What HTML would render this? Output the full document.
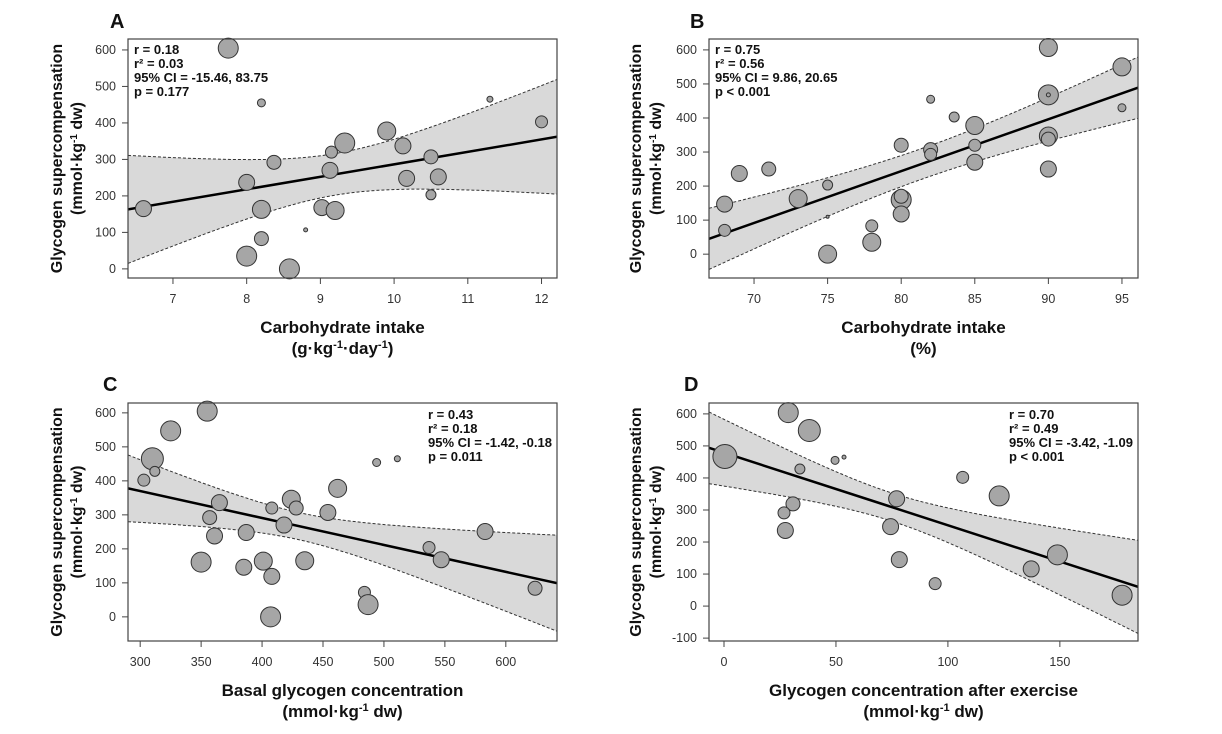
<!DOCTYPE html>
<html><head><meta charset="utf-8">
<style>
body{margin:0;background:#fff;}
svg{display:block;font-family:"Liberation Sans",Arial,sans-serif;}
.tick{font-size:12.5px;fill:#333;}
.stat{font-size:13px;font-weight:bold;fill:#111;}
.ttl{font-size:16px;font-weight:bold;fill:#111;}
.let{font-size:20px;font-weight:bold;fill:#111;}
</style></head>
<body>
<svg id="chart" width="1222" height="734"></svg>
<script>
// ---------- Panel A data ----------
const aX=[7.75,8.2,11.3,12.0,9.9,9.33,10.12,9.15,8.37,10.5,9.13,8.0,10.17,10.6,10.5,6.6,8.2,9.02,9.2,8.8,8.2,8.0,8.58];
const aY=[605,455,465,403,378,345,337,320,292,307,270,237,248,252,203,165,163,168,160,107,83,35,0];
const aR=[10,4,3,6,9,10,8,6,7,7,8,8,8,8,5,8,9,8,9,2,7,10,10];
const aFit=[163,362];
const aBand=[57,48.6,9.2];
const aXTicks=[7,8,9,10,11,12];
const aYTicks=[0,100,200,300,400,500,600];
const aStats=["r = 0.18","r² = 0.03","95% CI = -15.46, 83.75","p = 0.177"];
// ---------- Panel B data ----------
const bX=[90,95,90,90,95,82,83.6,85,90,90,80,85,82,82,85,69,71,90,75,73,68,80,80,80,68,75,78,78,75];
const bY=[607,550,468,468,430,455,403,378,347,338,320,320,307,293,270,237,250,250,203,163,147,160,170,118,70,110,83,35,0];
const bR=[9,9,10,2,4,4,5,9,9,7,7,6,7,6,8,8,7,8,5,9,8,10,7,8,6,1.5,6,9,9];
const bFit=[45,489];
const bBand=[45,5.34,81.5];
const bXTicks=[70,75,80,85,90,95];
const bYTicks=[0,100,200,300,400,500,600];
const bStats=["r = 0.75","r² = 0.56","95% CI = 9.86, 20.65","p < 0.001"];
// ---------- Panel C data ----------
const cX=[355,325,310,312,303,511,494,462,424,365,408,428,454,357,418,583,387,361,537,547,350,401,435,385,408,624,484,487,407];
const cY=[605,547,465,428,402,465,454,378,346,336,320,320,307,292,270,251,248,238,204,168,161,164,165,146,119,84,72,36,0];
const cR=[10,10,11,5,6,3,4,9,9,8,6,7,8,7,8,8,8,8,6,8,10,9,9,8,8,7,6,10,10];
const cFit=[378,99];
const cBand=[40,0.639,430];
const cXTicks=[300,350,400,450,500,550,600];
const cYTicks=[0,100,200,300,400,500,600];
const cStats=["r = 0.43","r² = 0.18","95% CI = -1.42, -0.18","p = 0.011"];
// ---------- Panel D data ----------
const dX=[28.7,38.1,0.4,49.6,53.6,33.9,106.6,122.9,77.1,30.8,26.8,74.4,27.4,148.9,78.3,137.2,94.3,177.8];
const dY=[604,548,467,455,465,428,402,344,335,319,291,248,236,160,145,116,70,34];
const dR=[10,11,12,4,2,5,6,10,8,7,6,8,8,10,8,8,6,10];
const dFit=[494,60];
const dBand=[44,1.26,75];
const dXTicks=[0,50,100,150];
const dYTicks=[-100,0,100,200,300,400,500,600];
const dStats=["r = 0.70","r² = 0.49","95% CI = -3.42, -1.09","p < 0.001"];

const NS="http://www.w3.org/2000/svg";
const svg=document.getElementById('chart');
function mk(tag,attrs,parent,txt){const e=document.createElementNS(NS,tag);for(const k in attrs)e.setAttribute(k,attrs[k]);if(txt!==undefined)e.textContent=txt;(parent||svg).appendChild(e);return e;}

function panel(cfg){
  const g=mk('g',{});
  
  
  const L=cfg.box[0],T=cfg.box[1],R=cfg.box[2],B=cfg.box[3];
  const sx=v=>L+(v-cfg.xr[0])/(cfg.xr[1]-cfg.xr[0])*(R-L);
  const sy=v=>B-(v-cfg.yr[0])/(cfg.yr[1]-cfg.yr[0])*(B-T);
  const clipId='clip'+cfg.id;
  const cp=mk('clipPath',{id:clipId},g);mk('rect',{x:L,y:T,width:R-L,height:B-T},cp);
  const fit=x=>cfg.fit[0]+(x-cfg.xr[0])/(cfg.xr[1]-cfg.xr[0])*(cfg.fit[1]-cfg.fit[0]);
  const hw=x=>Math.sqrt(cfg.band[0]*cfg.band[0]+cfg.band[1]*cfg.band[1]*(x-cfg.band[2])*(x-cfg.band[2]));
  let up=[],lo=[];
  for(let i=0;i<=60;i++){const x=cfg.xr[0]+i/60*(cfg.xr[1]-cfg.xr[0]);up.push(sx(x).toFixed(1)+','+sy(fit(x)+hw(x)).toFixed(1));lo.push(sx(x).toFixed(1)+','+sy(fit(x)-hw(x)).toFixed(1));}
  const cg=mk('g',{'clip-path':'url(#'+clipId+')'},g);
  const band=mk('polygon',{points:up.concat(lo.slice().reverse()).join(' '),fill:'#d9d9d9',stroke:'none'},cg);
  
  
  const u=mk('polyline',{points:up.join(' '),fill:'none',stroke:'#333','stroke-width':1,'stroke-dasharray':'3,2'},cg);
  
  
  const l=mk('polyline',{points:lo.join(' '),fill:'none',stroke:'#333','stroke-width':1,'stroke-dasharray':'3,2'},cg);
  
  
  const fl=mk('line',{x1:L,y1:sy(cfg.fit[0]),x2:R,y2:sy(cfg.fit[1]),stroke:'#000','stroke-width':2.5},cg);
  
  
  for(let i=0;i<cfg.x.length;i++){
    const c=mk('circle',{cx:sx(cfg.x[i]),cy:sy(cfg.y[i]),r:cfg.r[i],fill:'#a6a6a6',stroke:'#333','stroke-width':1},g);
    
    
  }
  const bx=mk('rect',{x:L,y:T,width:R-L,height:B-T,fill:'none',stroke:'#444','stroke-width':1.2},g);
  
  
  cfg.xt.forEach(t=>{const x=sx(t);mk('line',{x1:x,y1:B,x2:x,y2:B+6,stroke:'#444'},g);
    const tx=mk('text',{x:x,y:B+25,'text-anchor':'middle',class:'tick'},g,t);
    
    });
  cfg.yt.forEach(t=>{const y=sy(t);mk('line',{x1:L-6,y1:y,x2:L,y2:y,stroke:'#444'},g);
    const tx=mk('text',{x:L-12,y:y+4,'text-anchor':'end',class:'tick'},g,t);
    
    });
  cfg.stats.forEach((s,i)=>{const tx=mk('text',{x:cfg.sp[0],y:cfg.sp[1]+i*14,class:'stat'},g,s);
    
    });
  const lt=mk('text',{x:cfg.let[0],y:cfg.let[1],class:'let'},g,cfg.id);
  
  
  const cy=(T+B)/2, ax=cfg.yl;
  const y1=mk('text',{x:ax,y:cy,'text-anchor':'middle',class:'ttl',transform:'rotate(-90 '+ax+' '+cy+')'},g,'Glycogen supercompensation');
  
  
  const y2=mk('text',{x:ax+20,y:cy,'text-anchor':'middle',class:'ttl',transform:'rotate(-90 '+(ax+20)+' '+cy+')'},g);
  y2.innerHTML='(mmol·kg<tspan dy="-5" font-size="10">-1</tspan><tspan dy="5"> dw)</tspan>';
  
  
  const cx=(L+R)/2;
  const x1=mk('text',{x:cx,y:B+55,'text-anchor':'middle',class:'ttl',style:'font-size:17px'},g,cfg.xl1);
  
  
  const x2=mk('text',{x:cx,y:B+76,'text-anchor':'middle',class:'ttl',style:'font-size:17px'},g);
  x2.innerHTML=cfg.xl2;
  
  
}
const unit='(mmol·kg<tspan dy="-6" font-size="11">-1</tspan><tspan dy="6"> dw)</tspan>';
panel({id:'A',box:[128,39,557,278],xr:[6.39,12.21],yr:[-25,630],x:aX,y:aY,r:aR,fit:aFit,band:aBand,xt:aXTicks,yt:aYTicks,stats:aStats,sp:[134,54],let:[110,28],yl:62,xl1:'Carbohydrate intake',xl2:'(g·kg<tspan dy="-6" font-size="11">-1</tspan><tspan dy="6">·day</tspan><tspan dy="-6" font-size="11">-1</tspan><tspan dy="6">)</tspan>'});
panel({id:'B',box:[709,39,1138,278],xr:[66.94,96.09],yr:[-70,632],x:bX,y:bY,r:bR,fit:bFit,band:bBand,xt:bXTicks,yt:bYTicks,stats:bStats,sp:[715,54],let:[690,28],yl:641,xl1:'Carbohydrate intake',xl2:'(%)'});
panel({id:'C',box:[128,403,557,641],xr:[290,642],yr:[-71,629],x:cX,y:cY,r:cR,fit:cFit,band:cBand,xt:cXTicks,yt:cYTicks,stats:cStats,sp:[428,419],let:[103,391],yl:62,xl1:'Basal glycogen concentration',xl2:unit});
panel({id:'D',box:[709,403,1138,641],xr:[-6.7,184.9],yr:[-109,634],x:dX,y:dY,r:dR,fit:dFit,band:dBand,xt:dXTicks,yt:dYTicks,stats:dStats,sp:[1009,419],let:[684,391],yl:641,xl1:'Glycogen concentration after exercise',xl2:unit});
</script>
</body></html>
